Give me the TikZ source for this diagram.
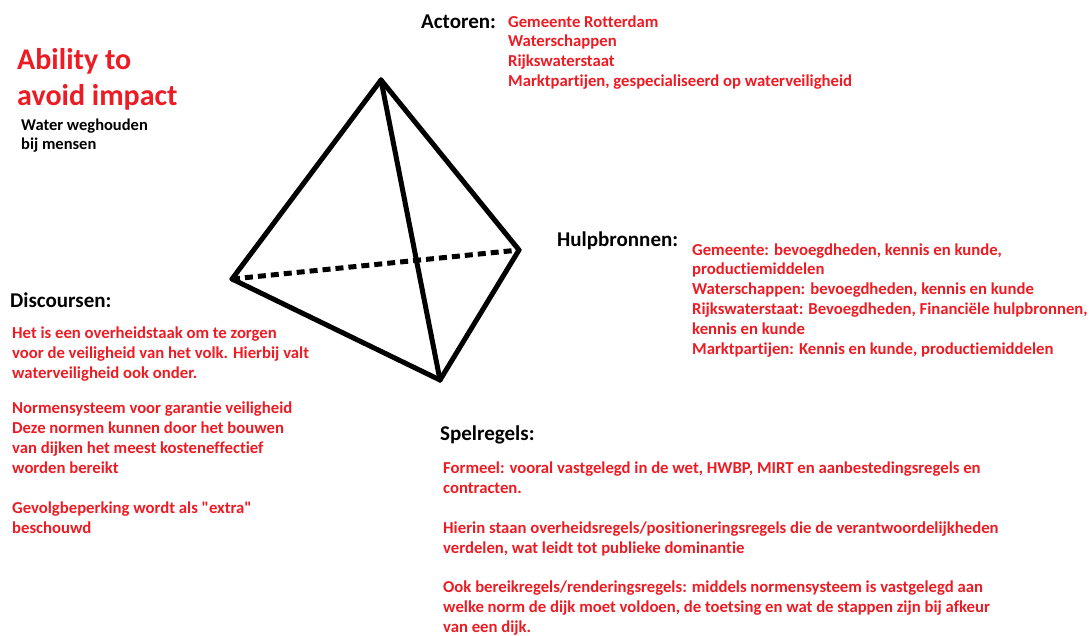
\documentclass[tikz,border=0pt]{standalone}
\usepackage{fontspec}
\setmainfont{Carlito}[Ligatures={TeXOff,NoCommon}]
\definecolor{paintred}{RGB}{237,28,36}
% multi-line nodes are placed by the baseline of their last line
\tikzset{
  edge/.style={line width=5pt, line cap=round, line join=round},
  hidden/.style={line width=5pt, dash pattern=on 8pt off 5pt},
  heading/.style={anchor=base west, inner sep=0pt, font=\bfseries\fontsize{21}{25}\selectfont},
  redtext/.style={anchor=base west, inner sep=0pt, align=left, text=paintred,
    font=\bfseries\fontsize{16.7}{19.8}\selectfont},
  blacktext/.style={anchor=base west, inner sep=0pt, align=left,
    font=\bfseries\fontsize{16.5}{19.5}\selectfont},
  title/.style={anchor=base west, inner sep=0pt, align=left, text=paintred,
    font=\bfseries\fontsize{30}{36}\selectfont},
}
\begin{document}
\begin{tikzpicture}[x=1pt,y=-1pt]
\useasboundingbox (0,0) rectangle (1091,635);
\fill[white] (0,0) rectangle (1091,635);

% tetrahedron corners
\coordinate (top) at (381,80);
\coordinate (left) at (232,279);
\coordinate (right) at (519,250);
\coordinate (bottom) at (440,380);

% hidden back edge
\draw[hidden] (left) -- (right);
% visible edges
\draw[edge] (top) -- (left);
\draw[edge] (top) -- (right);
\draw[edge] (top) -- (bottom);
\draw[edge] (left) -- (bottom);
\draw[edge] (bottom) -- (right);

% title
\node[title] (ability) at (17,105) {Ability to\\avoid impact};
\node[blacktext] (goal) at (21,149.5) {Water weghouden\\bij mensen};

% actors
\node[heading] (actHead) at (421,28) {Actoren:};
\node[redtext] (actText) at (508,86.4) {Gemeente Rotterdam\\Waterschappen\\Rijkswaterstaat\\Marktpartijen, gespecialiseerd op waterveiligheid};

% resources
\node[heading] (resHead) at (557,246) {Hulpbronnen:};
\node[redtext] (resText) at (692,354) {Gemeente: bevoegdheden, kennis en kunde,\\productiemiddelen\\Waterschappen: bevoegdheden, kennis en kunde\\Rijkswaterstaat: Bevoegdheden, Financiële hulpbronnen,\\kennis en kunde\\Marktpartijen: Kennis en kunde, productiemiddelen};

% discourses
\node[heading] (discHead) at (10,307) {Discoursen:};
\node[redtext] (disc1) at (12,378) {Het is een overheidstaak om te zorgen\\voor de veiligheid van het volk. Hierbij valt\\waterveiligheid ook onder.};
\node[redtext] (disc2) at (12,473) {Normensysteem voor garantie veiligheid\\Deze normen kunnen door het bouwen\\van dijken het meest kosteneffectief\\worden bereikt};
\node[redtext] (disc3) at (12,533) {Gevolgbeperking wordt als "extra"\\beschouwd};

% rules of the game
\node[heading] (ruleHead) at (440,440) {Spelregels:};
\node[redtext] (rule1) at (443,493) {Formeel: vooral vastgelegd in de wet, HWBP, MIRT en aanbestedingsregels en\\contracten.};
\node[redtext] (rule2) at (443,553) {Hierin staan overheidsregels/positioneringsregels die de verantwoordelijkheden\\verdelen, wat leidt tot publieke dominantie};
\node[redtext] (rule3) at (443,632.5) {Ook bereikregels/renderingsregels: middels normensysteem is vastgelegd aan\\welke norm de dijk moet voldoen, de toetsing en wat de stappen zijn bij afkeur\\van een dijk.};
\end{tikzpicture}
\end{document}
